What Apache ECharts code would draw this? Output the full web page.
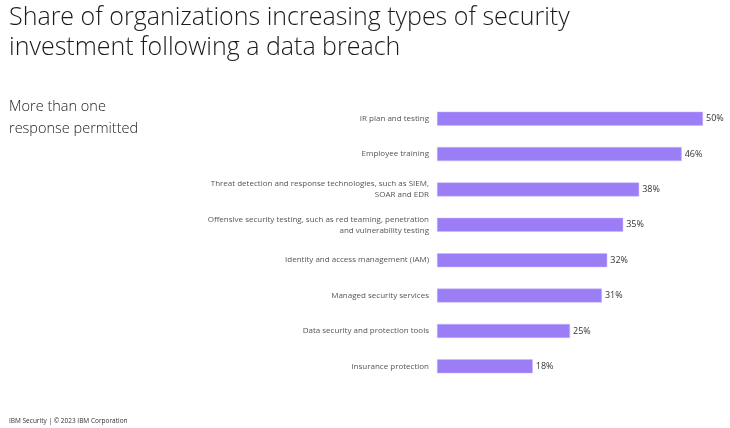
<!DOCTYPE html>
<html><head><meta charset="utf-8">
<script src="https://cdn.jsdelivr.net/npm/echarts@6/dist/echarts.min.js"></script>
<style>html,body{margin:0;padding:0;background:#fff}#c{width:730px;height:428px}</style>
</head><body><div id="c"></div>
<script>
const categories = [
  "IR plan and testing",
  "Employee training",
  "Threat detection and response technologies, such as SIEM,\nSOAR and EDR",
  "Offensive security testing, such as red teaming, penetration\nand vulnerability testing",
  "Identity and access management (IAM)",
  "Managed security services",
  "Data security and protection tools",
  "Insurance protection"
];
const values = [50, 46, 38, 35, 32, 31, 25, 18];
const titleText = "Share of organizations increasing types of security\ninvestment following a data breach";
const subtitleText = "More than one\nresponse permitted";
const footerText = "IBM Security | © 2023 IBM Corporation";

const chart = echarts.init(document.getElementById('c'), null, {renderer: 'canvas'});
chart.setOption({
  backgroundColor: '#fff',
  animation: false,
  title: [
    {text: titleText, left: 4, top: -2,
     textStyle: {fontFamily: 'Open Sans', fontWeight: 300, fontSize: 25, color: '#1a1a1a', lineHeight: 30}},
    {text: subtitleText, left: 4, top: 91,
     textStyle: {fontFamily: 'Open Sans', fontWeight: 300, fontSize: 14.5, color: '#1a1a1a', lineHeight: 22}},
    {text: footerText, left: 4, top: 413,
     textStyle: {fontFamily: 'Open Sans', fontWeight: 'normal', fontSize: 6.5, color: '#333'}}
  ],
  grid: {left: 437, right: 27, top: 101, bottom: 44},
  xAxis: {type: 'value', min: 0, max: 50, show: false},
  yAxis: {
    type: 'category', data: categories, inverse: true,
    axisLine: {show: false}, axisTick: {show: false},
    axisLabel: {margin: 8, fontFamily: 'Open Sans', fontSize: 8, color: '#555', lineHeight: 11, align: 'right'}
  },
  series: [{
    type: 'bar', data: values, barWidth: 14,
    itemStyle: {color: '#9b7ef6', borderColor: '#c9b8fb', borderWidth: 0.5},
    label: {show: true, position: 'right', distance: 3, formatter: '{c}%',
      fontFamily: 'Open Sans', fontSize: 9, color: '#333'}
  }]
});
</script></body></html>
